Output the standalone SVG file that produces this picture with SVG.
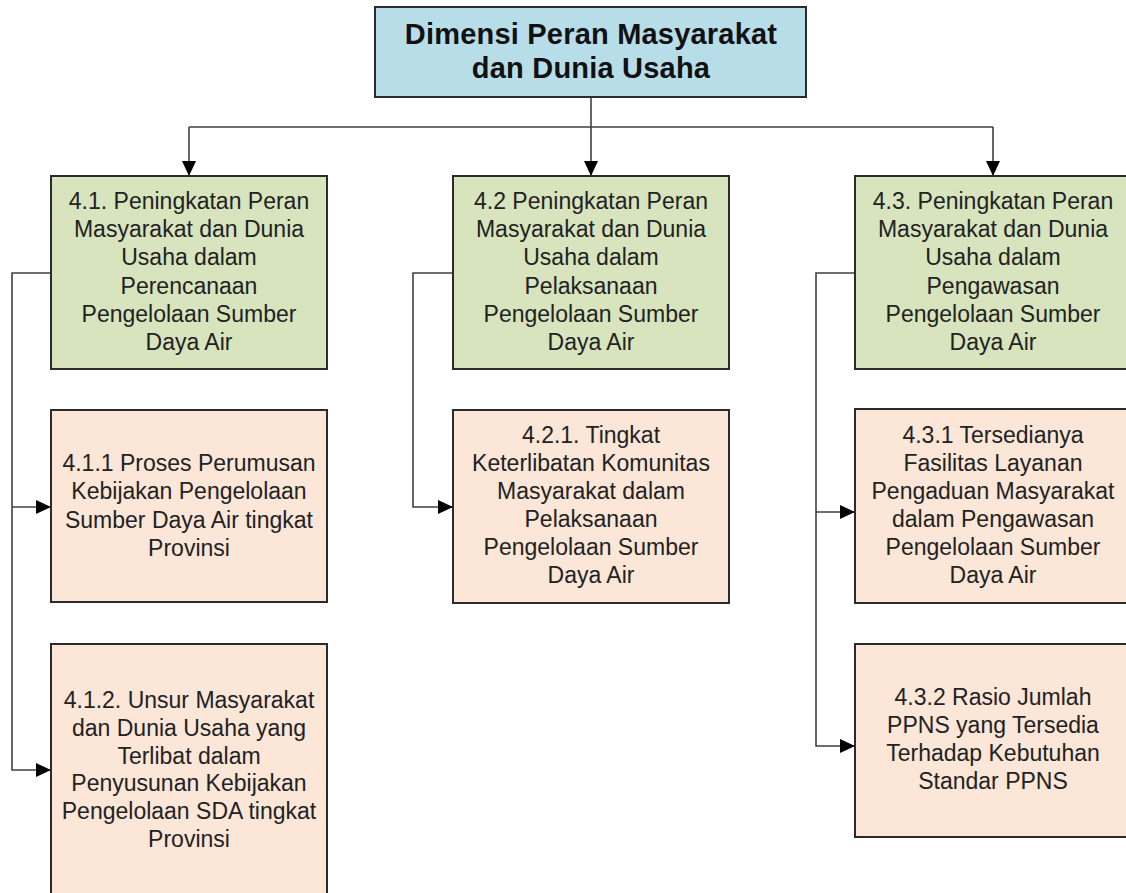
<svg xmlns="http://www.w3.org/2000/svg" width="1126" height="893" viewBox="0 0 1126 893">
<defs>
<style>
.box{stroke:#2b2b2b;stroke-width:2}
.root{fill:#b7dde8}
.l1{fill:#d7e4bd}
.l2{fill:#fbe6d8}
.t{font-family:"Liberation Sans",Arial,sans-serif;font-size:23px;fill:#222;text-anchor:middle}
.tt{font-family:"Liberation Sans",Arial,sans-serif;font-size:29px;font-weight:bold;fill:#111;text-anchor:middle;letter-spacing:0.2px}
.c{fill:none;stroke:#404040;stroke-width:1.6}
</style>
<marker id="arr" markerUnits="userSpaceOnUse" markerWidth="15" markerHeight="14" refX="15" refY="7" orient="auto">
<path d="M0,0 L15,7 L0,14 z" fill="#000"/>
</marker>
</defs>
<rect width="1126" height="893" fill="#fff"/>
<g id="connectors">
<path class="c" d="M591,97 V127"/>
<path class="c" d="M189,127 H993"/>
<path class="c" d="M591,127 V176" marker-end="url(#arr)"/>
<path class="c" d="M189,127 V176" marker-end="url(#arr)"/>
<path class="c" d="M993,127 V176" marker-end="url(#arr)"/>
<path class="c" d="M51,273 H12 V770 H51" marker-end="url(#arr)"/>
<path class="c" d="M12,507 H51" marker-end="url(#arr)"/>
<path class="c" d="M453,273 H413 V507 H453" marker-end="url(#arr)"/>
<path class="c" d="M855,273 H816 V746 H855" marker-end="url(#arr)"/>
<path class="c" d="M816,512 H855" marker-end="url(#arr)"/>
</g>
<g id="root">
<rect class="box root" x="375" y="7" width="431" height="90"/>
<text class="tt" x="591" y="44">Dimensi Peran Masyarakat</text>
<text class="tt" x="591" y="78">dan Dunia Usaha</text>
</g>
<g id="n41">
<rect class="box l1" x="51" y="176" width="276" height="193"/>
<text class="t" x="189" y="209">4.1. Peningkatan Peran<tspan x="189" dy="28.2">Masyarakat dan Dunia</tspan><tspan x="189" dy="28.2">Usaha dalam</tspan><tspan x="189" dy="28.2">Perencanaan</tspan><tspan x="189" dy="28.2">Pengelolaan Sumber</tspan><tspan x="189" dy="28.2">Daya Air</tspan></text>
</g>
<g id="n42">
<rect class="box l1" x="453" y="176" width="276" height="193"/>
<text class="t" x="591" y="209">4.2 Peningkatan Peran<tspan x="591" dy="28.2">Masyarakat dan Dunia</tspan><tspan x="591" dy="28.2">Usaha dalam</tspan><tspan x="591" dy="28.2">Pelaksanaan</tspan><tspan x="591" dy="28.2">Pengelolaan Sumber</tspan><tspan x="591" dy="28.2">Daya Air</tspan></text>
</g>
<g id="n43">
<rect class="box l1" x="855" y="176" width="276" height="193"/>
<text class="t" x="993" y="209">4.3. Peningkatan Peran<tspan x="993" dy="28.2">Masyarakat dan Dunia</tspan><tspan x="993" dy="28.2">Usaha dalam</tspan><tspan x="993" dy="28.2">Pengawasan</tspan><tspan x="993" dy="28.2">Pengelolaan Sumber</tspan><tspan x="993" dy="28.2">Daya Air</tspan></text>
</g>
<g id="n411">
<rect class="box l2" x="51" y="410" width="276" height="192"/>
<text class="t" x="189" y="471">4.1.1 Proses Perumusan<tspan x="189" dy="28.3">Kebijakan Pengelolaan</tspan><tspan x="189" dy="28.3">Sumber Daya Air tingkat</tspan><tspan x="189" dy="28.3">Provinsi</tspan></text>
</g>
<g id="n412">
<rect class="box l2" x="51" y="644" width="276" height="254"/>
<text class="t" x="189" y="708">4.1.2. Unsur Masyarakat<tspan x="189" dy="27.8">dan Dunia Usaha yang</tspan><tspan x="189" dy="27.8">Terlibat dalam</tspan><tspan x="189" dy="27.8">Penyusunan Kebijakan</tspan><tspan x="189" dy="27.8">Pengelolaan SDA tingkat</tspan><tspan x="189" dy="27.8">Provinsi</tspan></text>
</g>
<g id="n421">
<rect class="box l2" x="453" y="410" width="276" height="193"/>
<text class="t" x="591" y="443">4.2.1. Tingkat<tspan x="591" dy="28">Keterlibatan Komunitas</tspan><tspan x="591" dy="28">Masyarakat dalam</tspan><tspan x="591" dy="28">Pelaksanaan</tspan><tspan x="591" dy="28">Pengelolaan Sumber</tspan><tspan x="591" dy="28">Daya Air</tspan></text>
</g>
<g id="n431">
<rect class="box l2" x="855" y="409" width="276" height="194"/>
<text class="t" x="993" y="443">4.3.1 Tersedianya<tspan x="993" dy="28">Fasilitas Layanan</tspan><tspan x="993" dy="28">Pengaduan Masyarakat</tspan><tspan x="993" dy="28">dalam Pengawasan</tspan><tspan x="993" dy="28">Pengelolaan Sumber</tspan><tspan x="993" dy="28">Daya Air</tspan></text>
</g>
<g id="n432">
<rect class="box l2" x="855" y="644" width="276" height="193"/>
<text class="t" x="993" y="705">4.3.2 Rasio Jumlah<tspan x="993" dy="28">PPNS yang Tersedia</tspan><tspan x="993" dy="28">Terhadap Kebutuhan</tspan><tspan x="993" dy="28">Standar PPNS</tspan></text>
</g>
</svg>
